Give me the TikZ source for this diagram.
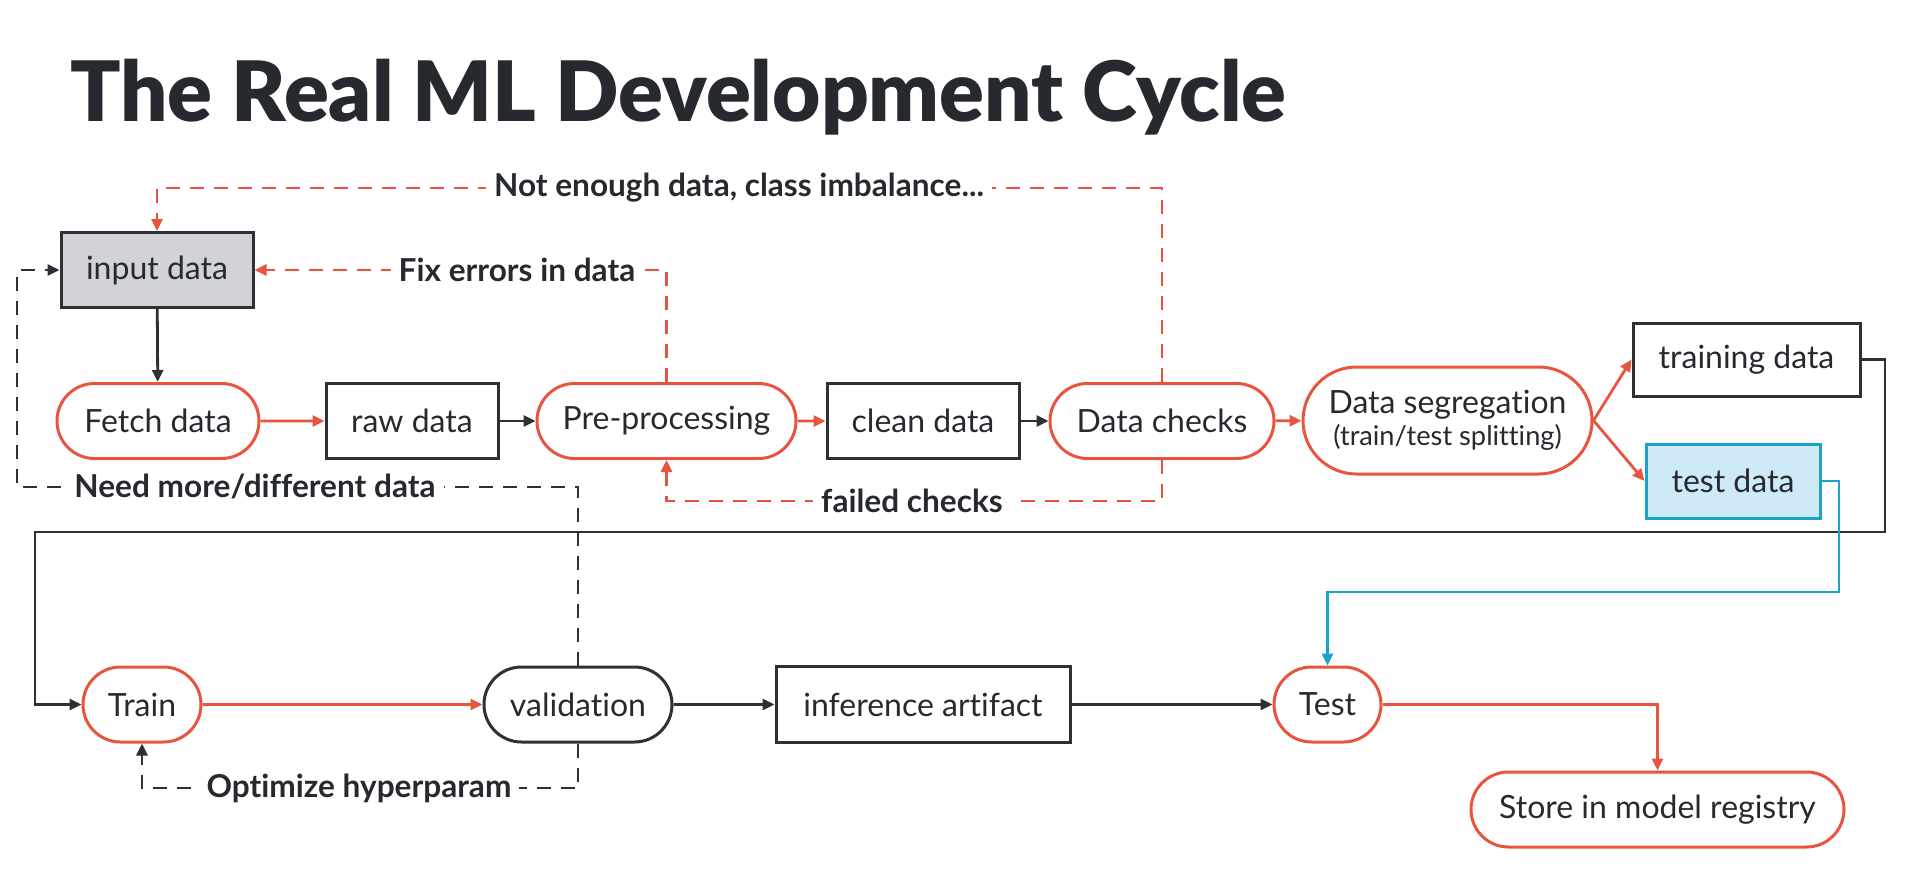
\documentclass[tikz,border=0pt]{standalone}
\usepackage{fontspec}
\setmainfont{Lato}[Ligatures={NoCommon}]
\IfFontExistsTF{Lato Black}{\newfontfamily\titlefont{Lato Black}}{\newcommand\titlefont{\bfseries}}
\usetikzlibrary{arrows.meta,shapes.misc,calc}
\definecolor{orc}{RGB}{233,84,62}
\definecolor{dk}{RGB}{45,49,54}
\definecolor{txt}{RGB}{38,42,46}
\definecolor{cy}{RGB}{27,163,206}
\definecolor{cyfill}{RGB}{206,234,246}
\definecolor{gfill}{RGB}{209,211,214}
\tikzset{
  sz/.style 2 args={minimum width=#1pt,minimum height=#2pt},
  box/.style={draw=dk,line width=1.5pt,rectangle,inner sep=0pt,text=txt,font=\fontsize{16}{19}\selectfont},
  pill/.style={draw=orc,line width=1.5pt,rounded rectangle,inner sep=0pt,text=txt,font=\fontsize{16}{19}\selectfont},
  lab/.style={fill=white,inner sep=4pt,text=txt,font=\bfseries\fontsize{15.8}{18}\selectfont},
  tip/.style={-{Triangle[length=6pt,width=5.5pt]}},
  dkl/.style={draw=dk,line width=1.4pt,tip},
  orl/.style={draw=orc,line width=1.4pt,tip},
  cyl/.style={draw=cy,line width=1.4pt,tip},
  dsh/.style={dash pattern=on 7pt off 5pt},
}
\begin{document}
\begin{tikzpicture}[x=0.5pt,y=-0.5pt]
\useasboundingbox (0,0) rectangle (1906,894);
\node[anchor=base west,inner sep=0pt,text=txt] (title) at (70,121)
  {\resizebox{608pt}{!}{\titlefont The Real ML Development Cycle}};

% row 1
\node[box,fill=gfill,sz={96}{37.5}] (input) at (157,270) {input data};
\node[pill,sz={101}{37.5}] (fetch) at (158,421) {Fetch data};
\node[box,sz={86}{37.5}] (raw) at (412,421) {raw data};
\node[pill,sz={129.5}{37.5}] (pre) at (666.5,421) {Pre-processing};
\node[box,sz={96}{37.5}] (clean) at (923,421) {clean data};
\node[pill,sz={112}{37.5}] (checks) at (1162,421) {Data checks};
\node[pill,sz={144.5}{53.5},align=center] (seg) at (1447.5,420.5)
  {Data segregation\\[-3pt]{\fontsize{13.6}{15}\selectfont (train/test splitting)}};
\node[box,sz={113.5}{36.5}] (training) at (1746.5,359.5) {training data};
\node[box,draw=cy,fill=cyfill,sz={87}{37}] (testd) at (1733,481) {test data};

% row 2
\node[pill,sz={59}{37.5}] (train) at (142,704.5) {Train};
\node[pill,draw=dk,sz={94}{37.5}] (valid) at (578,704.5) {validation};
\node[box,sz={147}{38}] (infer) at (923,704.5) {inference artifact};
\node[pill,sz={53.5}{37.5}] (test) at (1327.5,704.5) {Test};
\node[pill,sz={186.5}{37.5}] (store) at (1657.5,809.5) {Store in model registry};

% solid connectors
\draw[dkl] (input) -- (fetch);
\draw[orl] (fetch) -- (raw);
\draw[dkl] (raw) -- (pre);
\draw[orl] (pre) -- (clean);
\draw[dkl] (clean) -- (checks);
\draw[orl] (checks) -- (seg);
\draw[orl] (seg.east) -- (training.west);
\draw[orl] (seg.east) -- (testd.west);
\coordinate (k1) at (1885,532);
\coordinate (k2) at (35,532);
\draw[dkl] (training.east) -| (k1) -- (k2) |- (train.west);
\coordinate (c1) at (1839,592);
\draw[cyl] (testd.east) -| (c1) -| (test.north);
\draw[orl] (train) -- (valid);
\draw[dkl] (valid) -- (infer);
\draw[dkl] (infer) -- (test);
\draw[orl] (test.east) -| (store.north);

% dashed loops
\coordinate (ny) at (0,188);
\draw[orl,dsh] (checks.north) -- (checks.north |- ny) -| (input.north);
\node[lab] (l1) at (739,188) {Not enough data, class imbalance...};
\draw[orl,dsh] (pre.north) |- (input.east);
\node[lab] (l2) at (517,270) {Fix errors in data};
\coordinate (fy) at (0,501);
\draw[orl,dsh] (checks.south) -- (checks.south |- fy) -| (pre.south);
\node[lab] (l3) at (912,501) {failed checks};
\coordinate (ny2) at (17,487);
\draw[dkl,dsh] (valid.north) -- (valid.north |- ny2) -- (ny2) |- (input.west);
\node[lab] (l4) at (255,487) {Need more/different data};
\coordinate (oy) at (0,788);
\draw[dkl,dsh] (valid.south) -- (valid.south |- oy) -| (train.south);
\node[lab] (l5) at (359,788) {Optimize hyperparam};
\end{tikzpicture}
\end{document}
